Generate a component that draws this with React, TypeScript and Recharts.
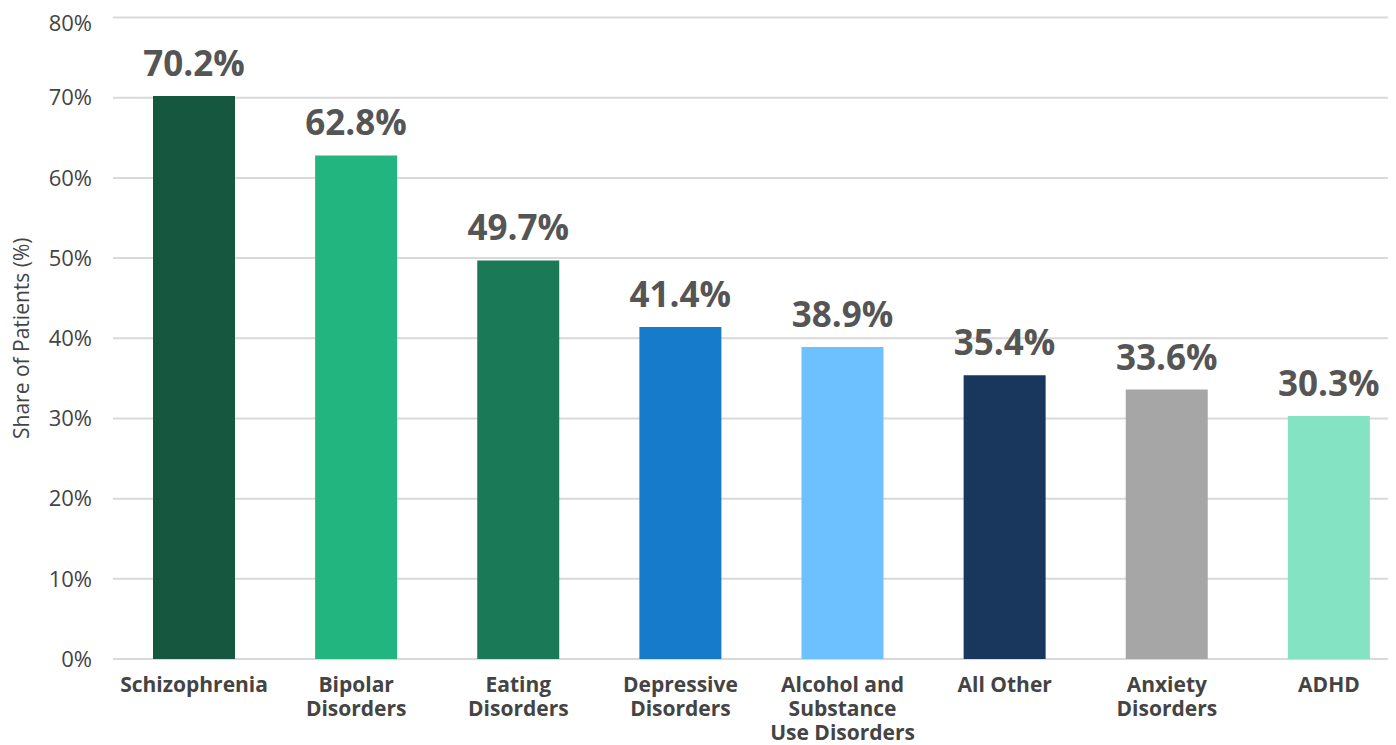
import React from "react";
import { BarChart, Bar, XAxis, YAxis, CartesianGrid, LabelList, Cell } from "recharts";

const categories = [
  "Schizophrenia",
  "Bipolar\nDisorders",
  "Eating\nDisorders",
  "Depressive\nDisorders",
  "Alcohol and\nSubstance\nUse Disorders",
  "All Other",
  "Anxiety\nDisorders",
  "ADHD",
];
const shares = [70.2, 62.8, 49.7, 41.4, 38.9, 35.4, 33.6, 30.3];
const colors = ["#16573F", "#22B580", "#1A7A58", "#167BCB", "#6EC1FF", "#19365D", "#A6A6A6", "#84E3C3"];
const yTicks = [0, 10, 20, 30, 40, 50, 60, 70, 80];

const data = categories.map((name, i) => ({ name, share: shares[i] }));

const FONT = "'Open Sans', 'Liberation Sans', sans-serif";

const CategoryTick = (props: any) => {
  const { x, y, payload } = props;
  const lines = String(payload.value).split("\n");
  return (
    <g transform={`translate(${x},${y})`}>
      <text
        x={0}
        y={17}
        textAnchor="middle"
        dominantBaseline="central"
        fontFamily={FONT}
        fontWeight={700}
        fontSize={21}
        fill="#444"
      >
        {lines.map((line: string, i: number) => (
          <tspan key={i} x={0} dy={i === 0 ? 0 : 24}>
            {line}
          </tspan>
        ))}
      </text>
    </g>
  );
};

export default function App() {
  return (
    <div style={{ width: 1388, height: 737, overflow: "hidden" }}>
      <BarChart
        width={1402}
        height={737}
        data={data}
        margin={{ top: 9.5, right: 0, bottom: 0, left: 0 }}
        barCategoryGap={0}
      >
        <CartesianGrid vertical={false} stroke="#d9d9d9" strokeWidth={2} />
        <XAxis
          dataKey="name"
          axisLine={false}
          tickLine={false}
          interval={0}
          height={86}
          tick={<CategoryTick />}
        />
        <YAxis
          domain={[0, 80]}
          ticks={yTicks}
          width={105}
          axisLine={false}
          tickLine={false}
          tickSize={0}
          tickMargin={21}
          tickFormatter={(v: number) => `${v}%`}
          tick={{ fontFamily: FONT, fontSize: 22, fill: "#444" }}
          label={{
            value: "Share of Patients (%)",
            angle: -90,
            position: "insideLeft",
            dx: 9,
            style: { fontFamily: FONT, fontSize: 21, fill: "#444", textAnchor: "middle" },
          }}
        />
        <Bar dataKey="share" barSize={82} isAnimationActive={false}>
          {data.map((d, i) => (
            <Cell key={d.name} fill={colors[i]} />
          ))}
          <LabelList
            dataKey="share"
            position="top"
            offset={20}
            formatter={(v: number) => `${v.toFixed(1)}%`}
            style={{ fontFamily: FONT, fontSize: 35, fontWeight: 700, fill: "#555" }}
          />
        </Bar>
      </BarChart>
    </div>
  );
}
